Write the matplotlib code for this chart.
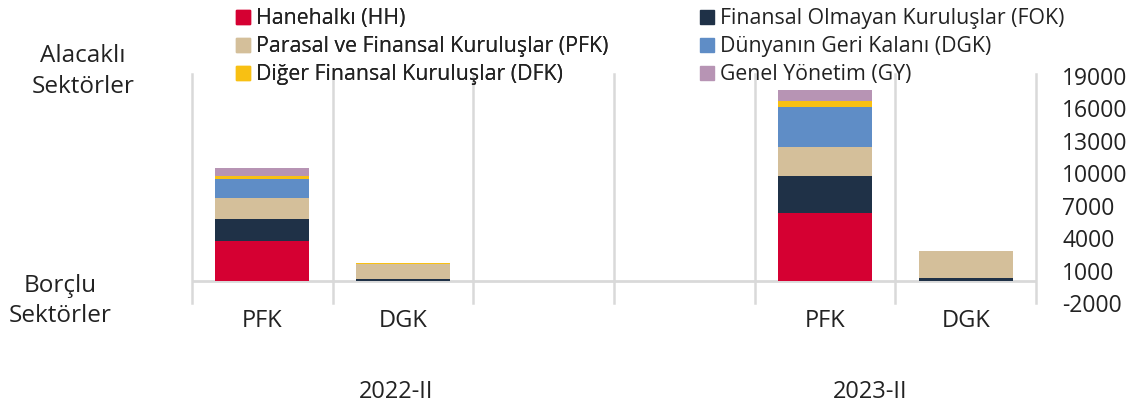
import matplotlib
matplotlib.use("Agg")
import matplotlib.pyplot as plt
from matplotlib.patches import Patch

plt.rcParams['font.family'] = ['Open Sans', 'DejaVu Sans']

periods = ["2022-II", "2023-II"]
slots = ["PFK", "DGK", "", "", "PFK", "DGK"]
bar_slots = [0, 1, 4, 5]

series_names = ["Hanehalkı (HH)", "Finansal Olmayan Kuruluşlar (FOK)",
                "Parasal ve Finansal Kuruluşlar (PFK)", "Dünyanın Geri Kalanı (DGK)",
                "Diğer Finansal Kuruluşlar (DFK)", "Genel Yönetim (GY)"]
HH  = [3700, 0, 6320, 0]
FOK = [2070, 200, 3390, 310]
PFK = [1900, 1420, 2680, 2500]
DGK = [1800, 0, 3700, 0]
DFK = [250, 50, 590, 30]
GY  = [740, 0, 1050, 0]
colors = ["#D50032", "#1F3147", "#D4BF9A", "#5F8DC6", "#F8C013", "#B794B4"]
yticks = [-2000, 1000, 4000, 7000, 10000, 13000, 16000, 19000]

TXT = "#222222"
W, H = 1148, 405
fig = plt.figure(figsize=(W/100, H/100), dpi=100)
ax = fig.add_axes([192/W, 1-303/H, (1036-192)/W, (303-76)/H])

series = [HH, FOK, PFK, DGK, DFK, GY]
bottom = [0]*4
for vals, c, name in zip(series, colors, series_names):
    ax.bar(bar_slots, vals, bottom=bottom, width=0.67, color=c, label=name, zorder=3)
    bottom = [b+v for b, v in zip(bottom, vals)]

ax.set_xlim(-0.5, 5.5)
ax.set_ylim(-2000, 19000)
for x in [i-0.5 for i in range(7)]:
    ax.axvline(x, color="#d9d9d9", lw=1.8, zorder=1, ymin=0, ymax=1.01, clip_on=False)
ax.axhline(0, color="#d9d9d9", lw=2, zorder=2)
for s in ax.spines.values():
    s.set_visible(False)
ax.yaxis.tick_right()
ax.set_yticks(yticks)
ax.set_yticklabels([str(v) for v in yticks], fontsize=16.5, color=TXT)
ax.tick_params(axis='y', length=0, pad=19)
ax.set_xticks(range(6))
ax.set_xticklabels(slots, fontsize=17, color=TXT)
ax.tick_params(axis='x', length=0, pad=4)

fig.text(396/W, 1-392/H, periods[0], ha='center', va='center', fontsize=17, color=TXT)
fig.text(870/W, 1-392/H, periods[1], ha='center', va='center', fontsize=17, color=TXT)
fig.text(83/W, 1-71.5/H, "Alacaklı\nSektörler", ha='center', va='center', fontsize=17.5,
         color=TXT, linespacing=1.36)
fig.text(60/W, 1-301/H, "Borçlu\nSektörler", ha='center', va='center', fontsize=17.5,
         color=TXT, linespacing=1.32)

handles = [Patch(color=c) for c in colors]
common = dict(loc='upper left', frameon=False, fontsize=15.3, handlelength=0.66,
              handleheight=0.62, handletextpad=0.28, labelspacing=0.33,
              borderaxespad=0, borderpad=0.3)
leg1 = fig.legend([handles[i] for i in (0, 2, 4)], [series_names[i] for i in (0, 2, 4)],
                  bbox_to_anchor=(230/W, 1-2/H), **common)
leg2 = fig.legend([handles[i] for i in (1, 3, 5)], [series_names[i] for i in (1, 3, 5)],
                  bbox_to_anchor=(694/W, 1-2/H), **common)
for leg in (leg1, leg2):
    for t in leg.get_texts():
        t.set_color(TXT)
fig.add_artist(leg1)

fig.savefig("out.png", dpi=100)
